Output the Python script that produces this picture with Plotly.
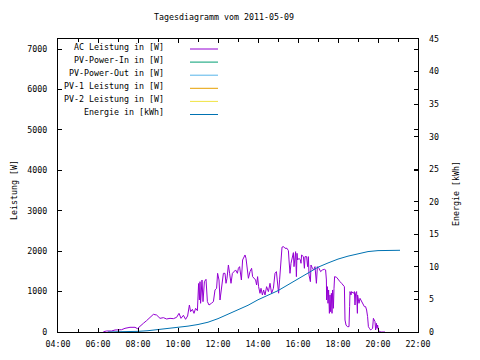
import plotly.graph_objects as go

# ---------------- data ----------------
ac_hours = [6.27, 6.43, 6.68, 6.85, 7.18, 7.35, 7.6, 7.85, 7.97, 8.1, 8.27, 8.43, 8.6, 8.77, 8.93,
            9.1, 9.27, 9.43, 9.6, 9.77, 9.93, 10.05, 10.15, 10.27, 10.38, 10.48, 10.57, 10.63, 10.72,
            10.8, 10.88, 10.97, 11.03, 11.07, 11.1, 11.13, 11.2, 11.25, 11.32, 11.4, 11.47, 11.55,
            11.67, 11.77, 11.85, 11.93, 11.98, 12.05, 12.1, 12.18, 12.27, 12.35, 12.4, 12.45, 12.52,
            12.58, 12.65, 12.72, 12.82, 12.88, 12.97, 13.02, 13.08, 13.12, 13.17, 13.23, 13.3, 13.35,
            13.4, 13.45, 13.52, 13.6, 13.68, 13.73, 13.82, 13.88, 13.93, 13.98, 14.03, 14.1, 14.15,
            14.22, 14.28, 14.35, 14.43, 14.52, 14.6, 14.68, 14.77, 14.85, 14.92, 14.98, 15.03, 15.08,
            15.15, 15.2, 15.28, 15.35, 15.45, 15.52, 15.55, 15.6, 15.65, 15.72, 15.77, 15.8, 15.85,
            15.88, 15.92, 15.95, 15.98, 16.05, 16.12, 16.15, 16.18, 16.27, 16.32, 16.35, 16.43, 16.48,
            16.52, 16.55, 16.62, 16.65, 16.72, 16.78, 16.85, 16.92, 16.97, 17.05, 17.13, 17.22, 17.32,
            17.38, 17.42, 17.43, 17.47, 17.5, 17.53, 17.57, 17.6, 17.63, 17.67, 17.7, 17.73, 17.77,
            17.8, 17.83, 17.93, 18.02, 18.1, 18.18, 18.27, 18.32, 18.35, 18.4, 18.47, 18.55, 18.58,
            18.6, 18.65, 18.68, 18.77, 18.82, 18.85, 18.88, 18.93, 18.97, 18.98, 19.02, 19.05, 19.1,
            19.15, 19.22, 19.27, 19.32, 19.38, 19.43, 19.48, 19.52, 19.57, 19.63, 19.68, 19.73, 19.77,
            19.82, 19.85, 19.88, 19.92, 19.95, 19.98, 20.02, 20.07, 20.18, 20.35]
ac_watts = [7, 25, 25, 50, 57, 91, 116, 116, 83, 149, 215, 281, 363, 437, 420,
            338, 355, 322, 338, 330, 363, 462, 338, 413, 314, 396, 668, 503, 561,
            462, 586, 528, 1200, 792, 1245, 710, 1287, 751, 1245, 1304, 751, 668,
            710, 751, 1040, 1081, 1452, 1287, 792, 1122, 1452, 1452, 1205, 1329, 1658,
            1452, 1205, 1452, 1494, 1535, 1452, 1576, 1617, 1452, 1287, 1782, 1865, 1906,
            1823, 1658, 1329, 1494, 1576, 1370, 1329, 1287, 1163, 1370, 1122, 957, 1081,
            916, 1040, 916, 1122, 999, 1205, 957, 1081, 1452, 1494, 1081, 960, 1290,
            1800, 2100, 2112, 2071, 2071, 2013, 1782, 1452, 1700, 1906, 1964, 1617, 1947,
            1988, 1370, 1947, 1782, 1823, 1782, 1700, 1906, 1865, 1576, 1865, 1865, 1617,
            1865, 1411, 1245, 1658, 1576, 1535, 1617, 1205, 1617, 1576, 1494, 1535, 1551,
            1535, 1287, 792, 1122, 710, 1040, 462, 916, 503, 957, 462, 1040, 586,
            1081, 1370, 1353, 1287, 1245, 1205, 1163, 1122, 297, 173, 132, 132, 627,
            1000, 916, 1000, 957, 1000, 668, 957, 1000, 462, 916, 833, 710, 833,
            792, 710, 668, 627, 627, 544, 379, 132, 91, 50, 66, 91, 338,
            297, 256, 50, 215, 91, 173, 50, 8, 0, 0]

energy_hours = [6.5, 7.0, 7.5, 8.0, 8.5, 9.0, 9.5, 10.0, 10.5, 11.0, 11.5, 12.0, 12.5, 13.0, 13.5,
                14.0, 14.5, 15.0, 15.5, 16.0, 16.5, 17.0, 17.5, 18.0, 18.5, 19.0, 19.5, 20.0,
                20.5, 21.1]
energy_kwh = [0.0, 0.02, 0.05, 0.1, 0.2, 0.35, 0.5, 0.7, 0.9, 1.15, 1.5, 2.05, 2.7, 3.4, 4.1,
              4.95, 5.65, 6.35, 7.25, 8.15, 9.0, 9.95, 10.6, 11.2, 11.65, 12.05, 12.35, 12.5,
              12.55, 12.55]

x_ticks = [4, 6, 8, 10, 12, 14, 16, 18, 20, 22]
x_ticklabels = ["%02d:00" % h for h in x_ticks]
y_ticks = [0, 1000, 2000, 3000, 4000, 5000, 6000, 7000]
y2_ticks = [0, 5, 10, 15, 20, 25, 30, 35, 40, 45]

legend_names = ["AC Leistung in [W]", "PV-Power-In in [W]", "PV-Power-Out in [W]",
                "PV-1 Leistung in [W]", "PV-2 Leistung in [W]", "Energie in [kWh]"]
legend_colors = ["#9400D3", "#009E73", "#56B4E9", "#E69F00", "#F0E442", "#0072B2"]

title_text = "Tagesdiagramm vom 2011-05-09"
font_name = "DejaVu Sans Mono"

# ---------------- figure ----------------
fig = go.Figure()
fig.add_trace(go.Scatter(x=ac_hours, y=ac_watts, mode="lines", name=legend_names[0],
                         line=dict(color=legend_colors[0], width=1), yaxis="y"))
fig.add_trace(go.Scatter(x=energy_hours, y=energy_kwh, mode="lines", name=legend_names[5],
                         line=dict(color=legend_colors[5], width=1), yaxis="y2"))

# page has an 8px body margin; compensate so the plot frame lands at 58..418 x 39..332
OFF = 8
W, H = 480, 360
L, R, T, B = 58 - OFF, 62 + OFF, 39 - OFF, 28 + OFF
pw, ph = W - L - R, H - T - B

def px_x(x):
    return (x - OFF - L) / pw

def px_y(y):
    return (OFF + H - B - y) / ph

shapes = []
annotations = []
row0 = 47
for i, (name, col) in enumerate(zip(legend_names, legend_colors)):
    yc = row0 + 13.1 * i
    annotations.append(dict(x=px_x(166), y=px_y(yc), xref="paper", yref="paper",
                            text=name, showarrow=False, xanchor="right", yanchor="middle",
                            font=dict(family=font_name, size=8.3, color="black")))
    shapes.append(dict(type="line", xref="paper", yref="paper",
                       x0=px_x(190), x1=px_x(218), y0=px_y(yc + 2), y1=px_y(yc + 2),
                       line=dict(color=col, width=1)))

annotations.append(dict(x=px_x(14), y=px_y(190), xref="paper", yref="paper",
                        text="Leistung [W]", textangle=-90, showarrow=False,
                        xanchor="center", yanchor="middle",
                        font=dict(family=font_name, size=8.3, color="black")))
annotations.append(dict(x=px_x(456), y=px_y(194), xref="paper", yref="paper",
                        text="Energie [kWh]", textangle=-90, showarrow=False,
                        xanchor="center", yanchor="middle",
                        font=dict(family=font_name, size=8.3, color="black")))

fig.update_layout(
    template="none",
    width=W, height=H,
    margin=dict(l=L, r=R, t=T, b=B, pad=0, autoexpand=False),
    paper_bgcolor="white", plot_bgcolor="white",
    showlegend=False,
    font=dict(family=font_name, size=8.3, color="black"),
    title=dict(text=title_text, x=(224 - OFF) / W, xref="container", xanchor="center",
               y=1 - (17 - OFF) / H, yref="container", yanchor="middle",
               font=dict(family=font_name, size=8.3, color="black")),
    xaxis=dict(range=[4, 22], tickvals=x_ticks, ticktext=x_ticklabels, automargin=False,
               ticks="inside", ticklen=4, tickcolor="black", showgrid=False, zeroline=False,
               showline=True, linecolor="black", linewidth=1, mirror="ticks",
               minor=dict(dtick=1, ticks="inside", ticklen=3, tickcolor="black", showgrid=False),
               ticklabelstandoff=4),
    yaxis=dict(range=[0, 7250], tickvals=y_ticks, ticks="inside", ticklen=4, tickcolor="black",
               automargin=False,
               showgrid=False, zeroline=False, showline=True, linecolor="black", linewidth=1,
               mirror="ticks", ticklabelstandoff=8),
    yaxis2=dict(range=[0, 45], tickvals=y2_ticks, overlaying="y", side="right",
                automargin=False,
                ticks="inside", ticklen=4, tickcolor="black", showgrid=False, zeroline=False,
                showline=False, ticklabelstandoff=10),
    shapes=shapes,
    annotations=annotations,
)

fig.write_html("out.html")
